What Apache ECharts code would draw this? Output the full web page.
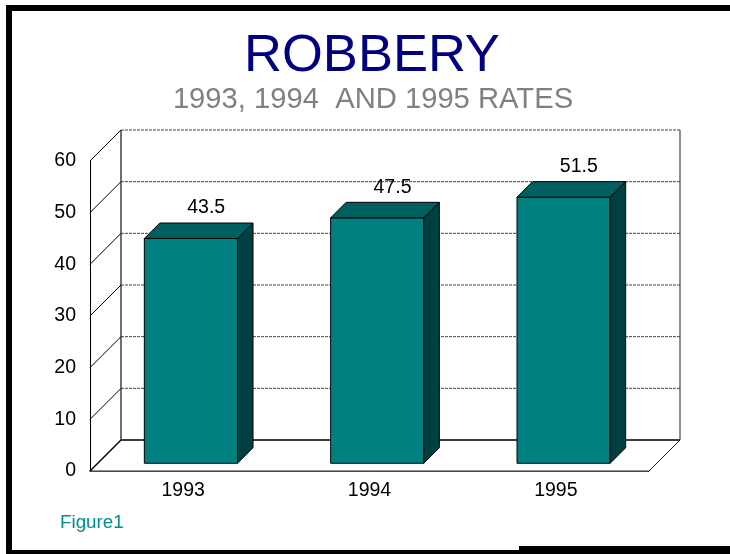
<!DOCTYPE html>
<html><head><meta charset="utf-8">
<style>html,body{margin:0;padding:0;background:#fff}#c{width:730px;height:554px}</style>
<script src="https://cdn.jsdelivr.net/npm/echarts@6/dist/echarts.min.js"></script>
</head><body><div id="c"></div>
<script>
const categories = ['1993', '1994', '1995'];
const rates = [43.5, 47.5, 51.5];
const gridValues = [10, 20, 30, 40, 50, 60];

const FONT = '"Liberation Sans", Arial, sans-serif';
const WALL_DX = 31, WALL_DY = -31;
const BAR_NEAR = 0.25, BAR_FAR = 0.75, BAR_W = 0.5;
const TEAL = '#008080', TEAL_TOP = '#006060', TEAL_SIDE = '#004040';

const chart = echarts.init(document.getElementById('c'), null, {renderer: 'canvas'});

function line(x1, y1, x2, y2, style) {
  return {type: 'line', shape: {x1, y1, x2, y2}, style: Object.assign({stroke: '#000', lineWidth: 1, fill: null}, style)};
}
function poly(points, fill) {
  return {type: 'polygon', shape: {points}, style: {fill, stroke: '#000', lineWidth: 1}};
}

function renderWalls(params, api) {
  const cs = params.coordSys;
  const right = cs.x + cs.width;
  const y0 = api.coord([0, 0])[1];
  const floor = poly([[cs.x, y0], [right, y0], [right + WALL_DX, y0 + WALL_DY], [cs.x + WALL_DX, y0 + WALL_DY]], '#fff');
  floor.style.stroke = '#222';
  return {type: 'group', children: [
    floor,
    line(cs.x, y0, cs.x + WALL_DX, y0 + WALL_DY, {stroke: '#000', lineWidth: 1.4}),
    line(cs.x + WALL_DX, y0 + WALL_DY, cs.x + WALL_DX, cs.y + WALL_DY, {stroke: '#333', lineWidth: 1.4}),
    line(right + WALL_DX, y0 + WALL_DY, right + WALL_DX, cs.y + WALL_DY, {stroke: '#555', lineWidth: 1.3}),
    line(cs.x + WALL_DX, y0 + WALL_DY, right + WALL_DX, y0 + WALL_DY, {stroke: '#222', lineWidth: 1.6})
  ]};
}

function renderGrid(params, api) {
  const cs = params.coordSys;
  const right = cs.x + cs.width;
  const y = api.coord([0, api.value(1)])[1];
  return {type: 'group', children: [
    line(cs.x, y, cs.x + WALL_DX, y + WALL_DY, {lineWidth: 1}),
    line(cs.x + WALL_DX, y + WALL_DY, right + WALL_DX, y + WALL_DY, {stroke: '#444', lineWidth: 1, lineDash: [3, 1]})
  ]};
}

function renderBar(params, api) {
  const band = api.size([1, 0])[0];
  const [cx, ytop] = api.coord([api.value(0), api.value(1)]);
  const y0 = api.coord([api.value(0), 0])[1];
  const w = band * BAR_W;
  const nx = WALL_DX * BAR_NEAR, ny = WALL_DY * BAR_NEAR;
  const fx = WALL_DX * (BAR_FAR - BAR_NEAR), fy = WALL_DY * (BAR_FAR - BAR_NEAR);
  const x1 = cx - w / 2 + nx, x2 = cx + w / 2 + nx, yt = ytop + ny, yb = y0 + ny;
  return {type: 'group', children: [
    poly([[x1, yt], [x2, yt], [x2, yb], [x1, yb]], TEAL),
    poly([[x1, yt], [x1 + fx, yt + fy], [x2 + fx, yt + fy], [x2, yt]], TEAL_TOP),
    poly([[x2, yt], [x2 + fx, yt + fy], [x2 + fx, yb + fy], [x2, yb]], TEAL_SIDE),
    {type: 'text', x: cx + 23, y: yt + fy - 5, style: {text: String(api.value(1)), font: '19.5px ' + FONT, fill: '#000', textAlign: 'center', textVerticalAlign: 'bottom'}}
  ]};
}

chart.setOption({
  animation: false,
  backgroundColor: '#fff',
  title: [
    {text: 'ROBBERY', left: 367, top: 25, textAlign: 'center', textStyle: {fontFamily: FONT, fontSize: 52.5, fontWeight: 'normal', color: '#000080'}},
    {text: '1993, 1994  AND 1995 RATES', left: 368, top: 80, textAlign: 'center', textStyle: {fontFamily: FONT, fontSize: 29.2, fontWeight: 'normal', color: '#808080'}},
    {text: 'Figure1', left: 55, top: 508, textStyle: {fontFamily: FONT, fontSize: 18.8, fontWeight: 'normal', color: '#008f8f'}}
  ],
  grid: {left: 90, right: 81, top: 161, bottom: 83, containLabel: false},
  xAxis: {type: 'category', data: categories, axisTick: {show: false},
    axisLine: {lineStyle: {color: '#444', width: 1.6}},
    axisLabel: {margin: 10, fontFamily: FONT, fontSize: 19.5, color: '#000'}},
  yAxis: {type: 'value', min: 0, max: 60, interval: 10, splitLine: {show: false}, axisTick: {show: false},
    axisLine: {show: true, lineStyle: {color: '#000', width: 1}},
    axisLabel: {margin: 14, fontFamily: FONT, fontSize: 19.5, color: '#000'}},
  series: [
    {type: 'custom', coordinateSystem: 'cartesian2d', renderItem: renderWalls, data: [[0, 0]], z: 1, silent: true, encode: {x: 0, y: 1}},
    {type: 'custom', coordinateSystem: 'cartesian2d', renderItem: renderGrid, data: gridValues.map(v => [0, v]), z: 2, silent: true, encode: {x: 0, y: 1}},
    {type: 'custom', coordinateSystem: 'cartesian2d', renderItem: renderBar, data: rates.map((v, i) => [i, v]), z: 3, encode: {x: 0, y: 1}}
  ],
  graphic: [
    {type: 'rect', silent: true, z: 100, shape: {x: 6, y: 5, width: 724, height: 6}, style: {fill: '#000'}},
    {type: 'rect', silent: true, z: 100, shape: {x: 6, y: 5, width: 6, height: 549}, style: {fill: '#000'}},
    {type: 'rect', silent: true, z: 100, shape: {x: 6, y: 550, width: 724, height: 4}, style: {fill: '#000'}},
    {type: 'rect', silent: true, z: 100, shape: {x: 519, y: 546, width: 211, height: 8}, style: {fill: '#000'}}
  ]
});
</script></body></html>
